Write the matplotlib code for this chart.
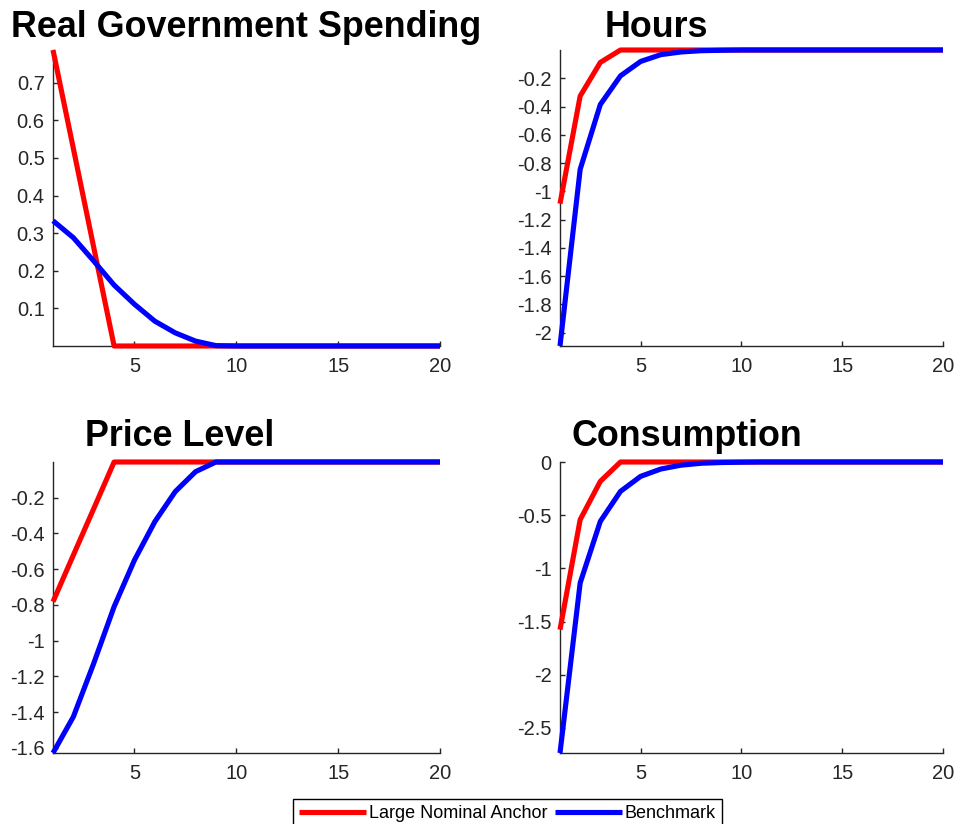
import numpy as np
import matplotlib
matplotlib.use("Agg")
import matplotlib.pyplot as plt
from matplotlib.ticker import FixedLocator, FuncFormatter

plt.rcParams['font.family'] = ['Liberation Sans', 'DejaVu Sans']

periods = np.arange(1, 21)

# impulse responses: large nominal anchor (red) vs benchmark (blue)
gov_anchor = [0.787, 0.525, 0.262, 0, 0, 0, 0, 0, 0, 0,
              0, 0, 0, 0, 0, 0, 0, 0, 0, 0]
gov_bench = [0.333, 0.288, 0.226, 0.162, 0.111, 0.066, 0.035, 0.013, 0.001, 0,
             0, 0, 0, 0, 0, 0, 0, 0, 0, 0]

hours_anchor = [-1.088, -0.326, -0.088, 0, 0, 0, 0, 0, 0, 0,
                0, 0, 0, 0, 0, 0, 0, 0, 0, 0]
hours_bench = [-2.095, -0.845, -0.386, -0.183, -0.081, -0.033, -0.014, -0.005, -0.002, 0,
               0, 0, 0, 0, 0, 0, 0, 0, 0, 0]

price_anchor = [-0.782, -0.521, -0.261, 0, 0, 0, 0, 0, 0, 0,
                0, 0, 0, 0, 0, 0, 0, 0, 0, 0]
price_bench = [-1.629, -1.426, -1.127, -0.810, -0.549, -0.334, -0.166, -0.054, 0, 0,
               0, 0, 0, 0, 0, 0, 0, 0, 0, 0]

cons_anchor = [-1.576, -0.542, -0.182, 0, 0, 0, 0, 0, 0, 0,
               0, 0, 0, 0, 0, 0, 0, 0, 0, 0]
cons_bench = [-2.735, -1.137, -0.558, -0.276, -0.135, -0.066, -0.030, -0.012, -0.005, -0.002,
              0, 0, 0, 0, 0, 0, 0, 0, 0, 0]

titles = ["Real Government Spending", "Hours", "Price Level", "Consumption"]
yticks = [[0.1, 0.2, 0.3, 0.4, 0.5, 0.6, 0.7],
          [-2, -1.8, -1.6, -1.4, -1.2, -1, -0.8, -0.6, -0.4, -0.2],
          [-1.6, -1.4, -1.2, -1, -0.8, -0.6, -0.4, -0.2],
          [-2.5, -2, -1.5, -1, -0.5, 0]]
xticks = [5, 10, 15, 20]
legend_labels = ["Large Nominal Anchor", "Benchmark"]

W, H = 956, 824
fig = plt.figure(figsize=(W / 100, H / 100), dpi=100)

# axes boxes in pixels: left, right, top, bottom
boxes = [(53, 440, 50, 346), (560, 943, 50, 346),
         (53, 440, 462, 753), (560, 943, 462, 753)]
# title centres / baselines in pixels
title_pos = [(246, 37), (656, 37), (180, 446), (687, 446)]

series = [(gov_anchor, gov_bench), (hours_anchor, hours_bench),
          (price_anchor, price_bench), (cons_anchor, cons_bench)]

ink = '#262626'
handles = None
for k in range(4):
    l, r, t, b = boxes[k]
    ax = fig.add_axes([l / W, 1 - b / H, (r - l) / W, (b - t) / H])
    red, blue = series[k]
    h1, = ax.plot(periods, red, color='#ff0000', lw=3.7, clip_on=False,
                  solid_capstyle='butt', zorder=3)
    h2, = ax.plot(periods, blue, color='#0000ff', lw=3.7, clip_on=False,
                  solid_capstyle='butt', zorder=4)
    handles = [h1, h2]
    lo = min(min(red), min(blue))
    hi = max(max(red), max(blue))
    ax.set_xlim(1, 20)
    ax.set_ylim(lo, hi)
    ax.xaxis.set_major_locator(FixedLocator(xticks))
    ax.yaxis.set_major_locator(FixedLocator(yticks[k]))
    ax.yaxis.set_major_formatter(FuncFormatter(lambda v, p: '%g' % round(v, 2)))
    ax.spines['top'].set_visible(False)
    ax.spines['right'].set_visible(False)
    for s in ('left', 'bottom'):
        ax.spines[s].set_color(ink)
        ax.spines[s].set_linewidth(1.0)
    ax.tick_params(direction='in', length=3.5, width=1.0, colors=ink,
                   labelsize=14.5, pad=6)
    ax.tick_params(axis='x', pad=8)
    cx, by = title_pos[k]
    fig.text(cx / W, 1 - by / H, titles[k], ha='center', va='baseline',
             fontsize=25.8, fontweight='bold', color='black')

leg = fig.legend(handles, legend_labels, loc='center',
                 bbox_to_anchor=(507.5 / W, 1 - 814 / H), ncol=2,
                 fontsize=13, handlelength=3.7, handletextpad=0.15,
                 columnspacing=0.45, borderpad=0.35, frameon=True,
                 fancybox=False, framealpha=1)
leg.get_frame().set_edgecolor('black')
leg.get_frame().set_linewidth(1.0)

fig.savefig('out.png', dpi=100)
